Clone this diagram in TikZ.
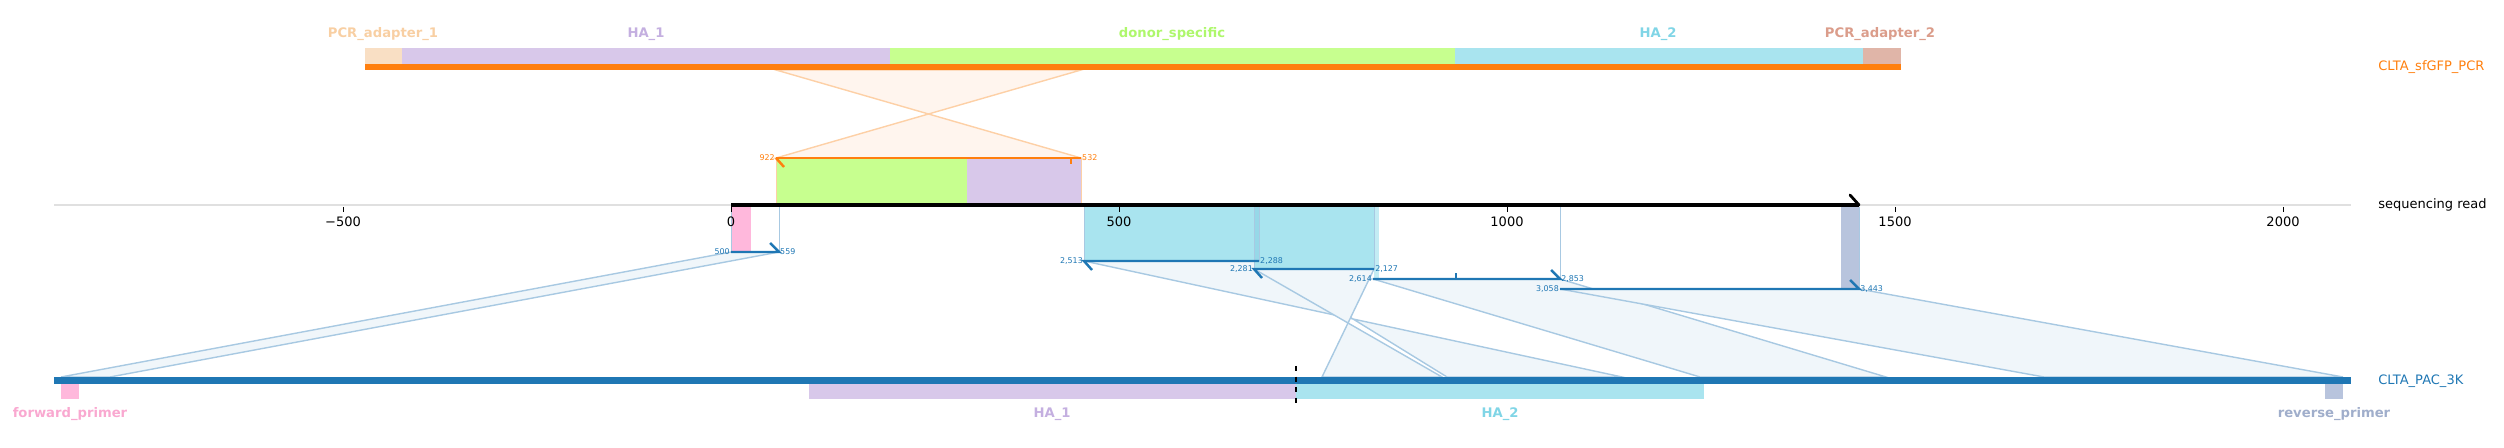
\documentclass[tikz,border=0pt]{standalone}
\usepackage{fontspec}
\setmainfont{DejaVu Sans}
\usepackage{xcolor}
\usepackage{tikz}
\usetikzlibrary{positioning,calc}

\definecolor{seqorange}{HTML}{FF7F0E}
\definecolor{seqblue}{HTML}{1F77B4}
\definecolor{pcrone}{HTML}{F9DFC4}
\definecolor{pcronetxt}{HTML}{F8CFA3}
\definecolor{haone}{HTML}{D8C8EA}
\definecolor{haonetxt}{HTML}{C4AFE0}
\definecolor{donor}{HTML}{C7FF8F}
\definecolor{donortxt}{HTML}{AEF76C}
\definecolor{hatwo}{HTML}{A9E4EF}
\definecolor{hatwodark}{HTML}{96D8E8}
\definecolor{hatwotxt}{HTML}{80D5E6}
\definecolor{pcrtwo}{HTML}{E0B5A8}
\definecolor{pcrtwotxt}{HTML}{DB9D8B}
\definecolor{fwd}{HTML}{FFB8DC}
\definecolor{fwdtxt}{HTML}{F9A8D0}
\definecolor{rev}{HTML}{B8C4DD}
\definecolor{revtxt}{HTML}{A0AECB}
\definecolor{linkfill}{HTML}{F0F6FA}
\definecolor{linkedge}{HTML}{A8C9E2}
\definecolor{xfill}{HTML}{FFF5EE}
\definecolor{xedge}{HTML}{FDD0A6}
\definecolor{axisgray}{HTML}{E0E0E0}

\begin{document}
\begin{tikzpicture}[x=0.02cm,y=-0.02cm,
    featlabel/.style={inner sep=0pt,font=\bfseries\fontsize{7.5}{9}\selectfont},
    seqlabel/.style={inner sep=0pt,font=\fontsize{7.4}{9}\selectfont},
    poslabel/.style={inner sep=0.5pt,font=\fontsize{4.5}{5}\selectfont},
    alnline/.style={seqblue,line width=1.4pt},
    orgline/.style={seqorange,line width=1.4pt},
    linkband/.style={fill=linkfill,draw=linkedge,line width=0.8pt},
    xband/.style={fill=xfill,draw=xedge,line width=0.8pt},
    regionedge/.style={draw=linkedge,line width=0.5pt}]
    \useasboundingbox (0,0) rectangle (2504,448);

    % Axis of the read
    \draw[axisgray,line width=0.8pt] (54,205) -- (2351,205);

    % Alignment end points
    \coordinate (topL) at (776,70);   \coordinate (topR) at (1081,70);
    \coordinate (orgL) at (776,158);  \coordinate (orgR) at (1081,158);
    \coordinate (a0L) at (731,252);   \coordinate (a0R) at (779,252);
    \coordinate (a1L) at (1084,261);  \coordinate (a1R) at (1259,261);
    \coordinate (a2L) at (1254,269);  \coordinate (a2R) at (1374,269);
    \coordinate (a3L) at (1373,279);  \coordinate (a3R) at (1560,279);
    \coordinate (a4L) at (1560,289);  \coordinate (a4R) at (1859,289);
    \coordinate (b0L) at (61,377);    \coordinate (b0R) at (110,377);
    \coordinate (b1L) at (1447,377);  \coordinate (b1R) at (1622,377);
    \coordinate (b2L) at (1322,377);  \coordinate (b2R) at (1442,377);
    \coordinate (b3L) at (1700,377);  \coordinate (b3R) at (1886,377);
    \coordinate (b4L) at (2044,377);  \coordinate (b4R) at (2343,377);

    % Links between reference and read
    \path[xband] (topL) -- (orgR) -- (orgL) -- (topR) -- cycle;
    \path[linkband] (a0L) -- (a0R) -- (b0R) -- (b0L) -- cycle;
    \path[linkband] (a1L) -- (a1R) -- (b1L) -- (b1R) -- cycle;
    \path[linkband] (a2L) -- (a2R) -- (b2L) -- (b2R) -- cycle;
    \path[linkband] (a3L) -- (a3R) -- (b3R) -- (b3L) -- cycle;
    \path[linkband] (a4L) -- (a4R) -- (b4R) -- (b4L) -- cycle;

    % Features on the read
    \fill[donor] (776,158) rectangle (967,205);
    \fill[haone] (967,158) rectangle (1081,205);
    \draw[xedge,line width=0.5pt] (776,158) -- (776,205) (1081,158) -- (1081,205);
    \fill[fwd] (731,207) rectangle (751,252);
    \draw[regionedge] (731,207) -- (731,252) (779,207) -- (779,252);
    \fill[hatwo] (1084,207) rectangle (1374,261);
    \fill[hatwo] (1254,261) rectangle (1374,269);
    \fill[hatwodark] (1254,207) rectangle (1259,261);
    \fill[hatwo,opacity=0.7] (1374,207) rectangle (1379,279);
    \draw[regionedge] (1084,207) -- (1084,261) (1259,207) -- (1259,261);
    \draw[regionedge] (1254,207) -- (1254,269) (1374,207) -- (1374,269);
    \draw[regionedge] (1560,207) -- (1560,279);
    \fill[rev] (1841,207) rectangle (1859,289);
    \draw[regionedge] (1859,207) -- (1859,289);

    % Ticks of the read
    \foreach \x/\t in {343/−500, 731/0, 1119/500, 1507/1000, 1895/1500, 2283/2000}
    {
        \draw[line width=0.5pt] (\x,207) -- (\x,212);
        \node[seqlabel] (tick\t) at (\x,222) {\t};
    }

    % Sequencing read
    \draw[line width=2.3pt] (731,205) -- (1859,205);
    \draw[line width=1.6pt,line cap=round] (1859,205) -- ++(-9,-10);
    \node[seqlabel,anchor=west] (readname) at (2378,205) {sequencing read};

    % Alignment lines
    \draw[orgline] (orgL) -- (orgR);
    \draw[orgline] (orgL) -- ++(8,9);
    \draw[seqorange,line width=0.8pt] (1071,158) -- (1071,164);
    \node[poslabel,anchor=east,text=seqorange] (o922) at (orgL) {922};
    \node[poslabel,anchor=west,text=seqorange] (o532) at (orgR) {532};

    \draw[alnline] (a0L) -- (a0R) -- ++(-9,-9);
    \node[poslabel,anchor=east,text=seqblue] (p500) at (a0L) {500};
    \node[poslabel,anchor=west,text=seqblue] (p559) at (a0R) {559};

    \draw[alnline] (a1R) -- (a1L) -- ++(8,9);
    \node[poslabel,anchor=east,text=seqblue] (p2513) at (a1L) {2,513};
    \node[poslabel,anchor=west,text=seqblue] (p2288) at (a1R) {2,288};

    \draw[alnline] (a2R) -- (a2L) -- ++(8,9);
    \node[poslabel,anchor=east,text=seqblue] (p2281) at (a2L) {2,281};
    \node[poslabel,anchor=west,text=seqblue] (p2127) at (a2R) {2,127};

    \draw[alnline] (a3L) -- (a3R) -- ++(-9,-9);
    \draw[seqblue,line width=0.8pt] (1456,279) -- (1456,273);
    \node[poslabel,anchor=east,text=seqblue] (p2614) at (a3L) {2,614};
    \node[poslabel,anchor=west,text=seqblue] (p2853) at (a3R) {2,853};

    \draw[alnline] (a4L) -- (a4R) -- ++(-9,-9);
    \node[poslabel,anchor=east,text=seqblue] (p3058) at (a4L) {3,058};
    \node[poslabel,anchor=west,text=seqblue] (p3443) at (a4R) {3,443};

    % Top reference: CLTA_sfGFP_PCR
    \fill[pcrone] (365,48) rectangle (402,64);
    \fill[haone] (402,48) rectangle (890,64);
    \fill[donor] (890,48) rectangle (1455,64);
    \fill[hatwo] (1455,48) rectangle (1863,64);
    \fill[pcrtwo] (1863,48) rectangle (1901,64);
    \fill[seqorange] (365,64) rectangle (1901,70);
    \node[featlabel,text=pcronetxt] (lblPCRa) at (383,34) {PCR\_adapter\_1};
    \node[featlabel,text=haonetxt] (lblHAa) at (646,34) {HA\_1};
    \node[featlabel,text=donortxt] (lblDonor) at (1172,34) {donor\_specific};
    \node[featlabel,text=hatwotxt] (lblHAb) at (1658,34) {HA\_2};
    \node[featlabel,text=pcrtwotxt] (lblPCRb) at (1880,34) {PCR\_adapter\_2};
    \node[seqlabel,anchor=west,text=seqorange] (topname) at (2378,67) {CLTA\_sfGFP\_PCR};

    % Bottom reference: CLTA_PAC_3K
    \fill[seqblue] (54,377) rectangle (2351,384);
    \fill[fwd] (61,384) rectangle (79,399);
    \fill[haone] (809,384) rectangle (1296,399);
    \fill[hatwo] (1296,384) rectangle (1704,399);
    \fill[rev] (2325,384) rectangle (2343,399);
    \draw[dashed,line width=0.6pt] (1296,366) -- (1296,404);
    \node[featlabel,text=fwdtxt] (lblFwd) at (70,414) {forward\_primer};
    \node[featlabel,text=haonetxt] (lblHAc) at (1052,414) {HA\_1};
    \node[featlabel,text=hatwotxt] (lblHAd) at (1500,414) {HA\_2};
    \node[featlabel,text=revtxt] (lblRev) at (2334,414) {reverse\_primer};
    \node[seqlabel,anchor=west,text=seqblue] (botname) at (2378,381) {CLTA\_PAC\_3K};
\end{tikzpicture}
\end{document}
